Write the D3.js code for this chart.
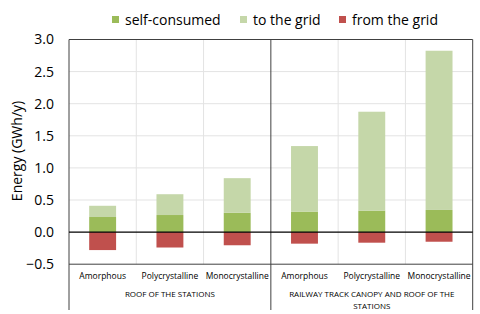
<!DOCTYPE html>
<html>
<head>
<meta charset="utf-8">
<script src="https://cdn.jsdelivr.net/npm/d3@7"></script>
<style>
  body { margin: 0; background: #fff; }
  text { font-family: "Open Sans", "Noto Sans", sans-serif; fill: #000; }
</style>
</head>
<body>
<svg id="chart" width="480" height="314"></svg>
<script>
// data
const categories = ['Amorphous', 'Polycrystalline', 'Monocrystalline',
  'Amorphous', 'Polycrystalline', 'Monocrystalline'];
const groups = [
  { lines: ['ROOF OF THE STATIONS'], from: 0, to: 3 },
  { lines: ['RAILWAY TRACK CANOPY AND ROOF OF THE', 'STATIONS'], from: 3, to: 6 }
];
const selfConsumed = [0.235, 0.266, 0.30, 0.32, 0.335, 0.345];
const toGrid = [0.175, 0.324, 0.54, 1.02, 1.54, 2.48];
const fromGrid = [-0.28, -0.24, -0.205, -0.18, -0.165, -0.15];
const yTicks = [-0.5, 0, 0.5, 1.0, 1.5, 2.0, 2.5, 3.0];
const seriesNames = ['self-consumed', 'to the grid', 'from the grid'];
const colors = ['#9bbb59', '#c5d7a9', '#c0504d'];

const svg = d3.select('#chart');
const plotL = 69, plotR = 472.7, plotT = 39.5, plotB = 264.2;

const x = d3.scaleBand()
  .domain(d3.range(categories.length))
  .range([plotL, plotR])
  .paddingInner(0.6).paddingOuter(0.3);
const y = d3.scaleLinear().domain([-0.5, 3.0]).range([plotB, plotT]);
const step = x.step();

// horizontal gridlines
svg.append('g').selectAll('line').data(yTicks.filter(d => d !== 0 && d !== -0.5 && d !== 3.0))
  .join('line')
  .attr('x1', plotL).attr('x2', plotR)
  .attr('y1', d => y(d)).attr('y2', d => y(d))
  .attr('stroke', '#e3e3e3').attr('stroke-width', 1);

// vertical gridlines between categories
svg.append('g').selectAll('line').data([1, 2, 4, 5])
  .join('line')
  .attr('x1', i => plotL + i * step).attr('x2', i => plotL + i * step)
  .attr('y1', plotT).attr('y2', plotB)
  .attr('stroke', '#e3e3e3').attr('stroke-width', 1);

// bars
const stacks = categories.map((c, i) => [
  { s: 0, y0: 0, y1: selfConsumed[i] },
  { s: 1, y0: selfConsumed[i], y1: selfConsumed[i] + toGrid[i] },
  { s: 2, y0: fromGrid[i], y1: 0 }
]);
svg.append('g').selectAll('g').data(stacks).join('g')
  .attr('transform', (d, i) => `translate(${x(i)},0)`)
  .selectAll('rect').data(d => d).join('rect')
  .attr('x', 0).attr('width', x.bandwidth())
  .attr('y', d => y(d.y1)).attr('height', d => y(d.y0) - y(d.y1))
  .attr('fill', d => colors[d.s]);

// frame
const frame = svg.append('g').attr('stroke', '#404040').attr('stroke-width', 1).attr('fill', 'none');
frame.append('line').attr('x1', plotL).attr('x2', plotR).attr('y1', plotT).attr('y2', plotT);
frame.append('line').attr('x1', plotL).attr('x2', plotR).attr('y1', plotB).attr('y2', plotB);
// group separators that drop under the axis
[0, 3, 6].forEach(i => {
  const xx = plotL + i * step;
  frame.append('line').attr('x1', xx).attr('x2', xx).attr('y1', plotT).attr('y2', 310);
});
// zero line
svg.append('line').attr('x1', plotL).attr('x2', plotR)
  .attr('y1', y(0)).attr('y2', y(0))
  .attr('stroke', '#000').attr('stroke-width', 1.2);

// y tick labels
svg.append('g').selectAll('text').data(yTicks).join('text')
  .attr('x', 54).attr('y', d => y(d)).attr('dy', '0.35em')
  .attr('text-anchor', 'end').attr('font-size', 14)
  .text(d => d3.format('.1f')(d));

// y title
svg.append('text')
  .attr('transform', 'translate(22,151) rotate(-90)')
  .attr('text-anchor', 'middle').attr('font-size', 14)
  .text('Energy (GWh/y)');

// category labels
svg.append('g').selectAll('text').data(categories).join('text')
  .attr('x', (d, i) => x(i) + x.bandwidth() / 2).attr('y', 279)
  .attr('text-anchor', 'middle').attr('font-size', 8.5)
  .text(d => d);

// group labels
groups.forEach(g => {
  const cx = plotL + (g.from + g.to) / 2 * step;
  g.lines.forEach((ln, k) => {
    svg.append('text').attr('x', cx).attr('y', 297 + k * 11.5)
      .attr('text-anchor', 'middle').attr('font-size', 8).text(ln);
  });
});

// legend
const legendX = [112, 240, 339];
const legend = svg.append('g').selectAll('g').data(seriesNames).join('g')
  .attr('transform', (d, i) => `translate(${legendX[i]},16)`);
legend.append('rect').attr('width', 7).attr('height', 7).attr('fill', (d, i) => colors[i]);
legend.append('text').attr('x', 13).attr('y', 4).attr('dy', '0.35em')
  .attr('font-size', 14).text(d => d);
</script>
</body>
</html>
